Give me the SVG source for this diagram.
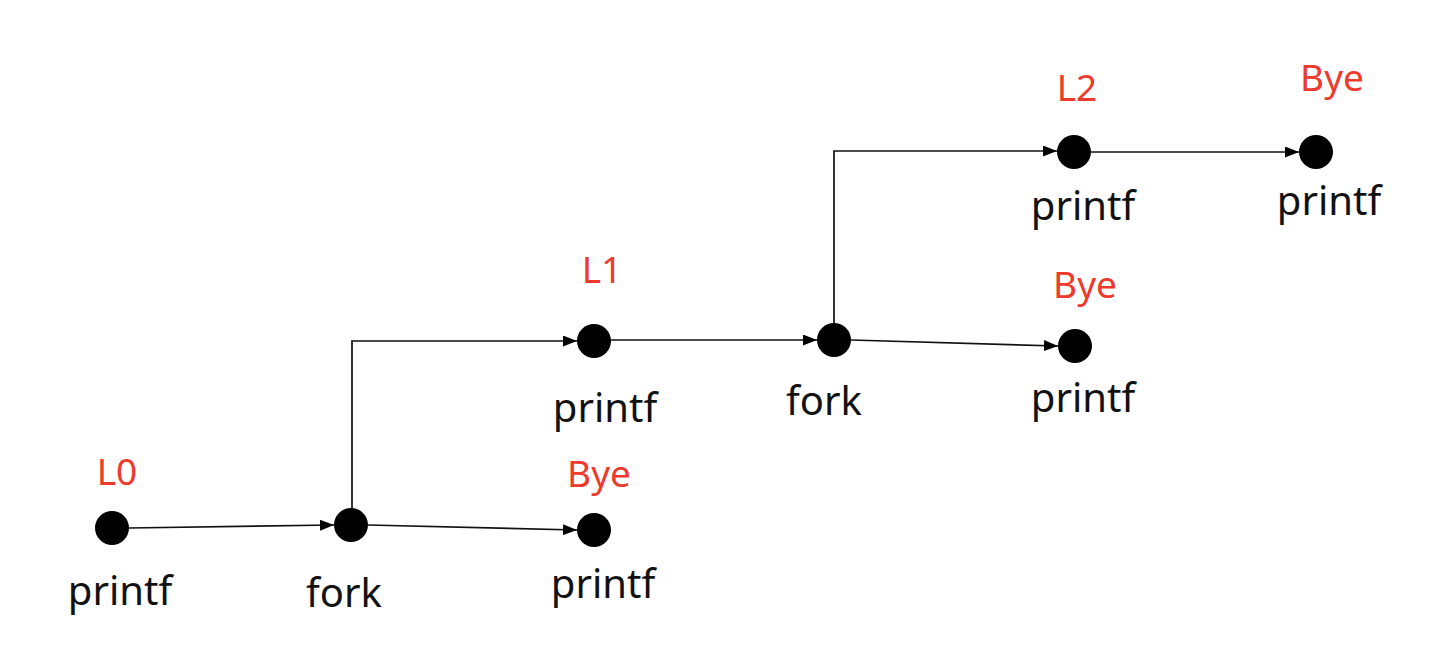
<svg xmlns="http://www.w3.org/2000/svg" width="1430" height="654" viewBox="0 0 1430 654">
<style>
.dot{fill:#000}
.lbl{font-family:"Noto Sans","Liberation Sans",sans-serif;font-size:40px;fill:#111;text-anchor:middle}
.tag{font-family:"Noto Sans","Liberation Sans",sans-serif;font-size:37px;fill:#ee3a2c;text-anchor:middle}
.c{fill:none;stroke:#111;stroke-width:1.7;marker-end:url(#ah)}
</style>
<defs>
<marker id="ah" viewBox="0 0 14 11" refX="14" refY="5.5" markerWidth="14" markerHeight="11" markerUnits="userSpaceOnUse" orient="auto">
<path d="M0,0 L14,5.5 L0,11 Z" fill="#000"/>
</marker>
</defs>
<rect width="1430" height="654" fill="#fff"/>
<g id="connectors">
<path class="c" d="M129,528 L334,525"/>
<path class="c" d="M368,525 L577,530"/>
<path class="c" d="M352,508 L352,341 L577,341"/>
<path class="c" d="M611,340 L817,340"/>
<path class="c" d="M851,340 L1058,346"/>
<path class="c" d="M834,323 L834,151 L1057,151"/>
<path class="c" d="M1091,152 L1299,152"/>
</g>
<g id="n-l0"><circle class="dot" cx="112" cy="528" r="17"/><text class="tag" x="117" y="485">L0</text><text class="lbl" x="120" y="605">printf</text></g>
<g id="n-fork1"><circle class="dot" cx="351" cy="525" r="17"/><text class="lbl" x="344" y="607">fork</text></g>
<g id="n-bye1"><circle class="dot" cx="594" cy="530" r="17"/><text class="tag" x="599" y="487">Bye</text><text class="lbl" x="603" y="598">printf</text></g>
<g id="n-l1"><circle class="dot" cx="594" cy="341" r="17"/><text class="tag" x="602" y="283">L1</text><text class="lbl" x="605" y="422">printf</text></g>
<g id="n-fork2"><circle class="dot" cx="834" cy="340" r="17"/><text class="lbl" x="824" y="415">fork</text></g>
<g id="n-bye2"><circle class="dot" cx="1075" cy="346" r="17"/><text class="tag" x="1085" y="298">Bye</text><text class="lbl" x="1083" y="412">printf</text></g>
<g id="n-l2"><circle class="dot" cx="1074" cy="152" r="17"/><text class="tag" x="1077" y="101">L2</text><text class="lbl" x="1083" y="220">printf</text></g>
<g id="n-bye3"><circle class="dot" cx="1316" cy="152" r="17"/><text class="tag" x="1332" y="91">Bye</text><text class="lbl" x="1329" y="215">printf</text></g>
</svg>
